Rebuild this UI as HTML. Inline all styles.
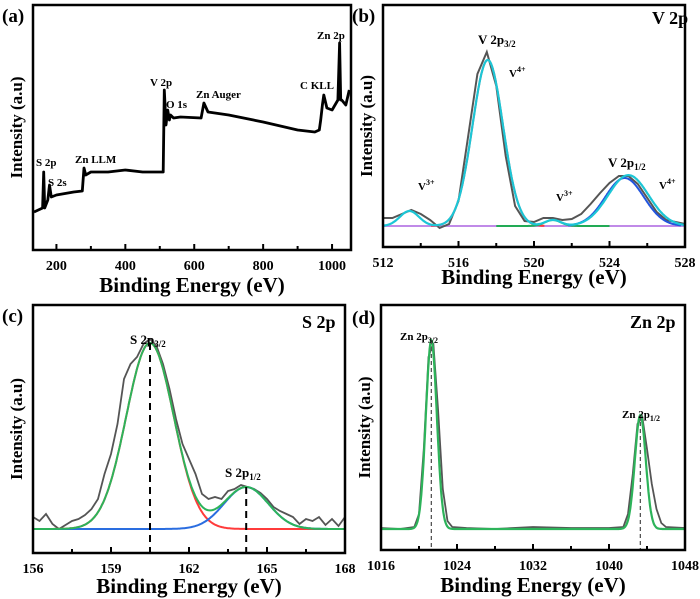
<!DOCTYPE html>
<html><head><meta charset="utf-8">
<style>
body{margin:0;background:#fff}
svg{display:block;font-family:"Liberation Serif",serif;font-weight:bold}
</style></head>
<body>
<svg id="fig" width="700" height="599" viewBox="0 0 700 599"></svg>
<script>
// ---------- DATA ----------
// (a) survey: binding energy (eV) vs intensity (arb.)
const surveyE = [135,160,163,166,175,180,185,200,250,275,280,285,300,350,400,450,510,513,518,523,528,531,540,560,620,628,640,700,800,900,950,963,967,972,976,985,1000,1017,1022,1025,1028,1040,1050];
const surveyI = [38,42,78,42,50,65,53,55,58,59,82,75,78,78,80,78,78,160,125,140,130,135,132,133,132,147,138,135,128,120,118,120,130,145,155,142,140,150,207,150,150,145,160];
const surveyTicks = [200,400,600,800,1000];

// (b) V 2p
const vE = [512,512.5,513,513.5,514,514.5,515,515.5,516,516.5,517,517.5,518,518.5,519,519.5,520,520.5,521,521.5,522,522.5,523,523.5,524,524.5,525,525.5,526,526.5,527,527.5,528];
const vRaw = [8,8,12,16,12,6,-2,2,25,88,152,174,140,70,20,5,4,8,8,6,7,12,22,33,43,50,50,42,28,14,6,4,2];
const vCenters = [517.55,513.4,521.0,524.8];
const vHeights = [166,15,6,48];
const vFwhm = [1.9,1.2,1.0,2.4];
const vTicks = [512,516,520,524,528];

// (c) S 2p
const sE = [156,156.25,156.5,156.75,157,157.25,157.5,157.75,158,158.25,158.5,158.75,159,159.25,159.5,159.75,160,160.25,160.5,160.75,161,161.25,161.5,161.75,162,162.25,162.5,162.75,163,163.25,163.5,163.75,164,164.25,164.5,164.75,165,165.25,165.5,165.75,166,166.25,166.5,166.75,167,167.25,167.5,167.75,168];
const sRaw = [12,8,15,5,0,4,8,10,14,20,30,55,75,105,150,165,172,185,190,183,165,140,110,85,70,55,35,30,32,30,38,40,44,42,40,36,30,22,18,15,12,5,10,8,12,4,10,3,12];
const sCenters = [160.5,164.2];
const sHeights = [186,42];
const sFwhm = [2.15,2.0];
const sTicks = [156,159,162,165,168];

// (d) Zn 2p
const zE = [1016,1018,1019.5,1020,1020.5,1021,1021.5,1022,1022.5,1023,1023.5,1025,1028,1032,1036,1040,1041.5,1042,1042.5,1043,1043.5,1044,1044.5,1045,1045.5,1046,1048];
const zRaw = [1,0,2,15,80,172,186,120,40,8,2,1,0,2,1,1,2,15,55,105,112,80,45,20,6,2,1];
const zCenters = [1021.3,1043.3];
const zHeights = [189,114];
const zFwhm = [1.35,1.35];
const zTicks = [1016,1024,1032,1040,1048];

// ---------- DRAWING ----------
const svg = document.getElementById('fig');
const NS = 'http://www.w3.org/2000/svg';
function mk(tag, attrs, parent){ const e=document.createElementNS(NS,tag); for(const k in attrs) e.setAttribute(k,attrs[k]); (parent||svg).appendChild(e); return e; }
function lin(d0,d1,r0,r1){ return v => r0+(v-d0)*(r1-r0)/(d1-d0); }
function gauss(x,c,h,f){ const s=f/2.3548; return h*Math.exp(-(x-c)*(x-c)/(2*s*s)); }
function pathFrom(xs,ys,sx,sy){ return xs.map((x,i)=>(i?'L':'M')+sx(x).toFixed(1)+','+sy(ys[i]).toFixed(1)).join(''); }
function fitPath(sx,sy,d0,d1,fn){ const xs=[],ys=[]; for(let x=d0;x<=d1+1e-9;x+=(d1-d0)/400){xs.push(x);ys.push(fn(x));} return pathFrom(xs,ys,sx,sy); }
function txt(x,y,s,size,name,anchor){ const t=mk('text',{x:x,y:y,'font-size':size,'text-anchor':anchor||'start'}); t.innerHTML=s;   return t; }

function panel(o){
  const g=mk('g',{});
  
  
  const sx=lin(o.xd[0],o.xd[1],o.x0,o.x1), sy=lin(o.yd[0],o.yd[1],o.y1,o.y0);
  o.ticks.forEach((t,i)=>{
    const tk=mk('line',{x1:sx(t),x2:sx(t),y1:o.y1,y2:o.y1-6,stroke:'#000','stroke-width':2},g);
    
    
    const lb=txt(sx(t),o.y1+20,String(t),14,'x-tick-label','middle'); g.appendChild(lb);
    if(i<o.ticks.length-1){ const m=(t+o.ticks[i+1])/2;
      const mt=mk('line',{x1:sx(m),x2:sx(m),y1:o.y1,y2:o.y1-4,stroke:'#000','stroke-width':2},g);
      
       }
  });
  o.draw(g,sx,sy);
  const fr=mk('rect',{x:o.x0,y:o.y0,width:o.x1-o.x0,height:o.y1-o.y0,fill:'none',stroke:'#000','stroke-width':2.5},g);
  
  
  const xt=txt((o.x0+o.x1)/2,o.y1+o.tOff,'Binding Energy (eV)',21,'x-axis-title','middle'); g.appendChild(xt);
  const yc=(o.y0+o.y1)/2;
  const yt=txt(o.yx,yc,'Intensity (a.u)',17,'y-axis-title','middle'); yt.setAttribute('transform','rotate(-90 '+o.yx+' '+yc+')'); g.appendChild(yt);
  return g;
}

// (a)
panel({name:'panel-a-survey',x0:33,x1:351,y0:5,y1:250,xd:[132,1055],yd:[0,245],ticks:surveyTicks,tOff:42,yx:22,
 draw:(g,sx,sy)=>{ const p=mk('path',{d:pathFrom(surveyE,surveyI,sx,sy),fill:'none',stroke:'#000','stroke-width':2.8,'stroke-linejoin':'round'},g);
  
   }});
txt(2,22,'(a)',19,'panel-label-a');
[['S 2p',36,166],['S 2s',48,186],['Zn LLM',75,163],['V 2p',150,86],['O 1s',166,108],['Zn Auger',196,98],['C KLL',300,89],['Zn 2p',317,39]].forEach(a=>txt(a[1],a[2],a[0],11,'peak-annotation'));

// (b)
panel({name:'panel-b-v2p',x0:383,x1:685,y0:5,y1:247,xd:[512,528],yd:[-21,221],ticks:vTicks,tOff:37,yx:372,
 draw:(g,sx,sy)=>{
  const base=mk('line',{x1:383,x2:685,y1:sy(0),y2:sy(0),stroke:'#c08ae8','stroke-width':2},g);
   
  const raw=mk('path',{d:pathFrom(vE,vRaw,sx,sy),fill:'none',stroke:'#555','stroke-width':2},g);
   
  const cols=['#ff3b3b','#1aa0c8','#22aa55','#2255dd'];
  [0,2,3].forEach(i=>{ const c=vCenters[i]; const p=mk('path',{d:fitPath(sx,sy,c-3,c+3,x=>gauss(x,c,vHeights[i],vFwhm[i])),fill:'none',stroke:cols[i],'stroke-width':2},g);
      });
  const env=mk('path',{d:fitPath(sx,sy,512,528,x=>vCenters.reduce((s,c,i)=>s+gauss(x,c+(i==3?0.2:0),vHeights[i]*(i==3?1.06:1),vFwhm[i]*(i==3?1.05:1)),0)),fill:'none',stroke:'#1cc6d6','stroke-width':2.2},g);
   
 }});
txt(352,22,'(b)',19,'panel-label-b');
txt(652,24,'V 2p',18,'panel-title-v2p');
txt(478,44,'V 2p<tspan font-size="9" dy="3">3/2</tspan>',13,'peak-label');
txt(509,77,'V<tspan font-size="8" dy="-5">4+</tspan>',11,'peak-label');
txt(418,190,'V<tspan font-size="8" dy="-5">3+</tspan>',11,'peak-label');
txt(556,201,'V<tspan font-size="8" dy="-5">3+</tspan>',11,'peak-label');
txt(608,167,'V 2p<tspan font-size="9" dy="3">1/2</tspan>',13,'peak-label');
txt(659,189,'V<tspan font-size="8" dy="-5">4+</tspan>',11,'peak-label');

// (c)
panel({name:'panel-c-s2p',x0:33,x1:345,y0:305,y1:553,xd:[156,168],yd:[-24,224],ticks:sTicks,tOff:40,yx:22,
 draw:(g,sx,sy)=>{
  const raw=mk('path',{d:pathFrom(sE,sRaw,sx,sy),fill:'none',stroke:'#555','stroke-width':1.8},g);
   
  const r=mk('path',{d:fitPath(sx,sy,156,168,x=>gauss(x,sCenters[0],sHeights[0],sFwhm[0])),fill:'none',stroke:'#ff3b3b','stroke-width':2},g);
   
  const b=mk('path',{d:fitPath(sx,sy,156,168,x=>gauss(x,sCenters[1],sHeights[1],sFwhm[1])),fill:'none',stroke:'#2a6de0','stroke-width':2},g);
   
  const e=mk('path',{d:fitPath(sx,sy,156,168,x=>gauss(x,sCenters[0],sHeights[0],sFwhm[0])+gauss(x,sCenters[1],sHeights[1],sFwhm[1])),fill:'none',stroke:'#2db35a','stroke-width':2},g);
   
  sCenters.forEach((c,i)=>{ const d=mk('line',{x1:sx(c),x2:sx(c),y1:sy(sHeights[i]),y2:553,stroke:'#000','stroke-width':2,'stroke-dasharray':'7,5'},g);
      });
 }});
txt(2,322,'(c)',19,'panel-label-c');
txt(302,328,'S 2p',18,'panel-title-s2p');
txt(130,344,'S 2p<tspan font-size="9" dy="3">3/2</tspan>',13,'peak-label');
txt(225,477,'S 2p<tspan font-size="9" dy="3">1/2</tspan>',13,'peak-label');

// (d)
panel({name:'panel-d-zn2p',x0:381,x1:685,y0:305,y1:550,xd:[1016,1048],yd:[-21,224],ticks:zTicks,tOff:42,yx:370,
 draw:(g,sx,sy)=>{
  const raw=mk('path',{d:pathFrom(zE,zRaw,sx,sy),fill:'none',stroke:'#555','stroke-width':1.8},g);
   
  const e=mk('path',{d:fitPath(sx,sy,1016,1048,x=>gauss(x,zCenters[0],zHeights[0],zFwhm[0])+gauss(x,zCenters[1],zHeights[1],zFwhm[1])),fill:'none',stroke:'#2db35a','stroke-width':2.2},g);
   
  zCenters.forEach((c,i)=>{ const d=mk('line',{x1:sx(c),x2:sx(c),y1:sy(zHeights[i]),y2:550,stroke:'#555','stroke-width':1.3,'stroke-dasharray':'4,3'},g);
      });
 }});
txt(352,324,'(d)',19,'panel-label-d');
txt(630,328,'Zn 2p',18,'panel-title-zn2p');
txt(400,340,'Zn 2p<tspan font-size="8" dy="3">3/2</tspan>',11,'peak-label');
txt(622,418,'Zn 2p<tspan font-size="8" dy="3">1/2</tspan>',11,'peak-label');
</script>
</body></html>
